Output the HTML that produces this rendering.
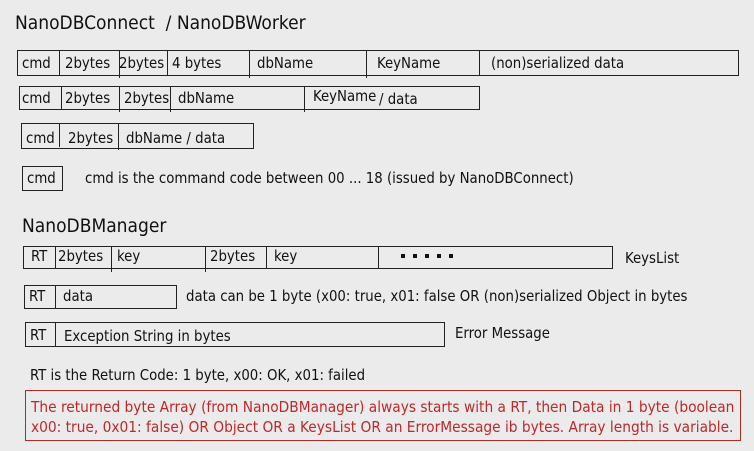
<!DOCTYPE html>
<html><head><meta charset="utf-8"><style>
body{margin:0;width:754px;height:451px;background:#ebebeb;position:relative;overflow:hidden;font-family:"DejaVu Sans Condensed","Liberation Sans",sans-serif;font-size:14.8px;color:#111}
.b{position:absolute;border:1px solid #222;box-sizing:border-box}
.d{position:absolute;width:1px;background:#222}
.t{position:absolute;white-space:nowrap;line-height:16px}
.h{position:absolute;font-size:19px;white-space:nowrap;font-family:"DejaVu Sans Condensed","Liberation Sans",sans-serif}
</style></head><body>
<div class="h" style="left:15px;top:12px">NanoDBConnect&nbsp; / NanoDBWorker</div>

<div class="b" style="left:17px;top:50px;width:722px;height:26px"></div>
<div class="d" style="left:59px;top:50px;height:26px"></div>
<div class="d" style="left:119px;top:50px;height:28px"></div>
<div class="d" style="left:167px;top:50px;height:26px"></div>
<div class="d" style="left:249px;top:50px;height:28px"></div>
<div class="d" style="left:366px;top:50px;height:28px"></div>
<div class="d" style="left:479px;top:50px;height:26px"></div>
<div class="t" style="left:22px;top:56px">cmd</div>
<div class="t" style="left:65px;top:56px">2bytes</div>
<div class="t" style="left:119px;top:56px">2bytes</div>
<div class="t" style="left:172px;top:56px">4 bytes</div>
<div class="t" style="left:257px;top:56px">dbName</div>
<div class="t" style="left:377px;top:56px">KeyName</div>
<div class="t" style="left:491px;top:56px">(non)serialized data</div>

<div class="b" style="left:19px;top:86px;width:461px;height:24px"></div>
<div class="d" style="left:61px;top:86px;height:24px"></div>
<div class="d" style="left:119px;top:86px;height:26px"></div>
<div class="d" style="left:170px;top:86px;height:26px"></div>
<div class="d" style="left:304px;top:86px;height:26px"></div>
<div class="t" style="left:22px;top:91px">cmd</div>
<div class="t" style="left:65px;top:91px">2bytes</div>
<div class="t" style="left:124px;top:91px">2bytes</div>
<div class="t" style="left:178px;top:91px">dbName</div>
<div class="t" style="left:313px;top:89px">KeyName</div>
<div class="t" style="left:379px;top:92px">/ data</div>

<div class="b" style="left:21px;top:123px;width:233px;height:26px"></div>
<div class="d" style="left:59px;top:123px;height:24px"></div>
<div class="d" style="left:118px;top:123px;height:27px"></div>
<div class="t" style="left:26px;top:131px">cmd</div>
<div class="t" style="left:68px;top:131px">2bytes</div>
<div class="t" style="left:126px;top:131px">dbName / data</div>

<div class="b" style="left:22px;top:166px;width:41px;height:25px"></div>
<div class="t" style="left:27px;top:171px">cmd</div>
<div class="t" style="left:85px;top:171px">cmd is the command code between 00 ... 18 (issued by NanoDBConnect)</div>

<div class="h" style="left:22px;top:215px">NanoDBManager</div>

<div class="b" style="left:23px;top:246px;width:590px;height:23px"></div>
<div class="d" style="left:55px;top:246px;height:23px"></div>
<div class="d" style="left:111px;top:246px;height:26px"></div>
<div class="d" style="left:205px;top:246px;height:26px"></div>
<div class="d" style="left:266px;top:246px;height:23px"></div>
<div class="d" style="left:378px;top:246px;height:23px"></div>
<div class="t" style="left:31px;top:249px">RT</div>
<div class="t" style="left:58px;top:249px">2bytes</div>
<div class="t" style="left:117px;top:249px">key</div>
<div class="t" style="left:210px;top:249px">2bytes</div>
<div class="t" style="left:274px;top:249px">key</div>
<div style="position:absolute;left:401px;top:254px;width:56px;height:4px;background:repeating-linear-gradient(90deg,#111 0 4px,transparent 4px 12px)"></div>
<div class="t" style="left:625px;top:251px">KeysList</div>

<div class="b" style="left:24px;top:285px;width:153px;height:24px"></div>
<div class="d" style="left:55px;top:285px;height:24px"></div>
<div class="t" style="left:29px;top:289px">RT</div>
<div class="t" style="left:63px;top:289px">data</div>
<div class="t" style="left:186px;top:289px">data can be 1 byte (x00: true, x01: false OR (non)serialized Object in bytes</div>

<div class="b" style="left:25px;top:322px;width:420px;height:25px"></div>
<div class="d" style="left:55px;top:322px;height:25px"></div>
<div class="t" style="left:30px;top:328px">RT</div>
<div class="t" style="left:64px;top:329px">Exception String in bytes</div>
<div class="t" style="left:455px;top:326px">Error Message</div>

<div class="t" style="left:30px;top:368px">RT is the Return Code: 1 byte, x00: OK, x01: failed</div>

<div class="b" style="left:25px;top:390px;width:716px;height:51px;border-color:#b02a2a"></div>
<div class="t" style="left:31px;top:397px;color:#c0282a;line-height:20px;font-size:15.3px">The returned byte Array (from NanoDBManager) always starts with a RT, then Data in 1 byte (boolean<br>x00: true, 0x01: false) OR Object OR a KeysList OR an ErrorMessage ib bytes. Array length is variable.</div>
</body></html>
